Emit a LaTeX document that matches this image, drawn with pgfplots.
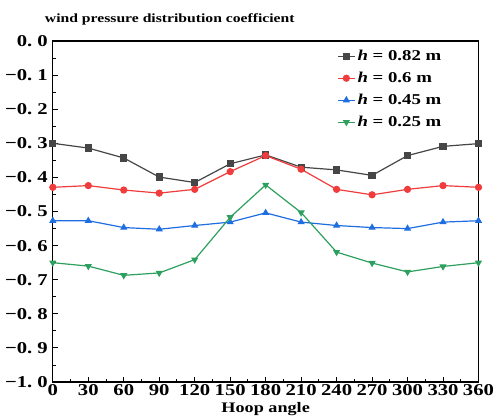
\documentclass[border=0pt]{standalone}
\usepackage{fontspec}
\setmainfont{Liberation Serif}[FakeStretch=1.25]
\usepackage{pgfplots}
\pgfplotsset{compat=1.18}
\definecolor{cK}{RGB}{70,70,70}
\definecolor{cR}{RGB}{240,60,60}
\definecolor{cB}{RGB}{30,110,225}
\definecolor{cG}{RGB}{45,160,95}
\newcommand{\dsp}{\hspace{0.3em}}
\begin{document}
\begin{tikzpicture}
\begin{axis}[
  scale only axis, width=423bp, height=339bp,
  xmin=0, xmax=360, ymin=-1, ymax=0,
  xtick={0,30,...,360},
  ytick={-1,-0.9,...,0.01},
  yticklabels={−1.\dsp0,−0.\dsp9,−0.\dsp8,−0.\dsp7,−0.\dsp6,−0.\dsp5,−0.\dsp4,−0.\dsp3,−0.\dsp2,−0.\dsp1,0.\dsp0},
  minor x tick num=1, minor y tick num=1,
  tick align=inside, tick pos=left,
  major tick length=5pt, minor tick length=3pt,
  every tick/.style={black, line width=1pt},
  axis line style={line width=1.3pt},
  ticklabel style={font=\fontsize{16.5}{17}\selectfont\bfseries},
  /pgf/number format/assume math mode=true,
  xticklabel style={inner sep=2pt},
  yticklabel style={inner sep=5pt},
  xlabel={\bfseries Hoop angle}, xlabel style={font=\fontsize{14.5}{16}\selectfont, yshift=-1pt},
  title={\rule{0pt}{22pt}\bfseries wind pressure distribution coefficient},
  title style={font=\fontsize{12.5}{14}\selectfont, at={(rel axis cs:0,1)}, anchor=south west, xshift=-8pt, yshift=10pt, inner sep=0pt},
  legend style={draw=none, fill=none, at={(rel axis cs:0.925,0.985)}, anchor=north east, font=\fontsize{15}{16}\selectfont\bfseries, row sep=6pt},
  legend cell align=left,
  every axis plot/.append style={line width=1.2pt, mark size=3pt},
]
\addplot[cK, mark=square*] coordinates {(0,-0.300) (30,-0.314) (60,-0.343) (90,-0.399) (120,-0.415) (150,-0.360) (180,-0.334) (210,-0.370) (240,-0.378) (270,-0.394) (300,-0.336) (330,-0.309) (360,-0.301)};
\addlegendentry{\textit{h} = 0.82 m}
\addplot[cR, mark=*] coordinates {(0,-0.429) (30,-0.424) (60,-0.437) (90,-0.446) (120,-0.435) (150,-0.383) (180,-0.336) (210,-0.376) (240,-0.435) (270,-0.451) (300,-0.435) (330,-0.424) (360,-0.429)};
\addlegendentry{\textit{h} = 0.6 m}
\addplot[cB, mark=triangle*] coordinates {(0,-0.527) (30,-0.527) (60,-0.547) (90,-0.552) (120,-0.541) (150,-0.531) (180,-0.504) (210,-0.531) (240,-0.541) (270,-0.547) (300,-0.550) (330,-0.531) (360,-0.527)};
\addlegendentry{\textit{h} = 0.45 m}
\addplot[cG, mark=triangle*, mark options={rotate=180}] coordinates {(0,-0.650) (30,-0.660) (60,-0.687) (90,-0.680) (120,-0.641) (150,-0.517) (180,-0.422) (210,-0.503) (240,-0.619) (270,-0.651) (300,-0.677) (330,-0.661) (360,-0.650)};
\addlegendentry{\textit{h} = 0.25 m}
\end{axis}
\end{tikzpicture}
\end{document}
